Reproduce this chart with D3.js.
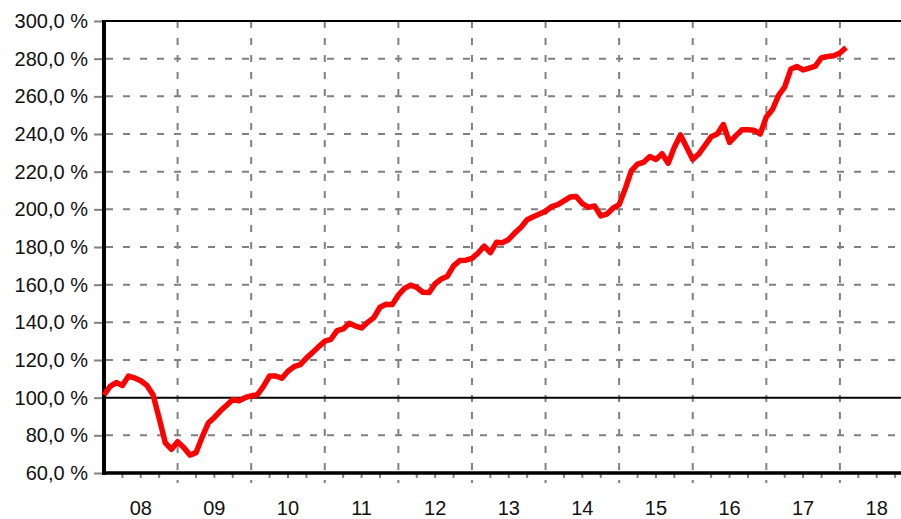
<!DOCTYPE html>
<html>
<head>
<meta charset="utf-8">
<script src="https://cdn.jsdelivr.net/npm/d3@7"></script>
<style>
  body { margin: 0; background: #fff; }
  svg { display: block; font-family: "Liberation Sans", Arial, sans-serif; }
</style>
</head>
<body>
<svg width="901" height="519"></svg>
<script>
// monthly index values, Jan of each year onwards
const v2008 = [101.4, 106, 108, 106.5, 111.5, 110.5, 109, 106.5, 101.5, 89, 76, 72.6];
const v2009 = [76.6, 73.5, 69.5, 70.8, 79, 86.5, 89.5, 93, 96, 99, 98.4, 100];
const v2010 = [101, 101.5, 106, 111.5, 111.5, 110.3, 114, 116.5, 117.5, 121, 124, 127];
const v2011 = [130, 131, 135.6, 136.5, 139.5, 138, 137, 140, 142.5, 148, 149.6, 149.4];
const v2012 = [154.5, 158, 159.8, 158.5, 156, 155.8, 160.5, 163, 164.5, 170, 172.8, 173];
const v2013 = [174, 176.8, 180.5, 177, 182.5, 182.3, 184, 187.5, 190.5, 194.5, 196.1, 197.5];
const v2014 = [199, 201.5, 202.5, 204.5, 206.5, 206.8, 203, 201.1, 201.8, 196.5, 197.5, 200.6];
const v2015 = [202.5, 211, 220.5, 224, 225, 228, 226.5, 229.5, 224.5, 233, 239.5, 233];
const v2016 = [226.5, 229.5, 234, 238.5, 240, 245, 235.5, 239, 242.2, 242.2, 242, 240];
const v2017 = [249, 253, 260.5, 265, 274.5, 275.8, 274, 275, 276, 280.5, 281.2, 281.5];
const v2018 = [283, 285.9];

const yearLabels = ['08', '09', '10', '11', '12', '13', '14', '15', '16', '17', '18'];
const yTicks = [60, 80, 100, 120, 140, 160, 180, 200, 220, 240, 260, 280, 300];

const series = [v2008, v2009, v2010, v2011, v2012, v2013, v2014, v2015, v2016, v2017, v2018];
const data = [];
series.forEach((vals, yi) => {
  vals.forEach((v, mi) => data.push({ t: 2008 + yi + mi / 12, v: v }));
});

const svg = d3.select('svg');
const mLeft = 104, mRight = 901, mTop = 21, mBottom = 473;

const x = d3.scaleLinear().domain([2008, 2018.83]).range([mLeft, mRight]);
const y = d3.scaleLinear().domain([60, 300]).range([mBottom, mTop]);

const grid = svg.append('g');

// horizontal grid (100 % is a solid line)
grid.selectAll('.hgrid')
  .data(yTicks.filter(d => d !== 60 && d !== 100 && d !== 300))
  .enter().append('line')
  .attr('x1', mLeft + 2).attr('x2', mRight)
  .attr('y1', d => y(d)).attr('y2', d => y(d))
  .attr('stroke', '#808080')
  .attr('stroke-width', 2)
  .attr('stroke-dasharray', '7,10');

// vertical grid at year boundaries, running a little below the axis
const yearStarts = d3.range(2009, 2019);
grid.selectAll('.vgrid')
  .data(yearStarts)
  .enter().append('line')
  .attr('x1', d => x(d)).attr('x2', d => x(d))
  .attr('y1', mTop).attr('y2', mBottom + 10)
  .attr('stroke', '#808080')
  .attr('stroke-width', 2)
  .attr('stroke-dasharray', '7,10');

// quarterly minor ticks
grid.selectAll('.qtick')
  .data(d3.range(2008, 2018.8, 0.25).filter(d => d % 1 !== 0))
  .enter().append('line')
  .attr('x1', d => x(d)).attr('x2', d => x(d))
  .attr('y1', mBottom).attr('y2', mBottom + 5)
  .attr('stroke', '#808080')
  .attr('stroke-width', 2);

// y axis labels + small tick marks
const fmt = d => d3.format('.1f')(d).replace('.', ',') + ' %';
const yAxis = svg.append('g')
  .attr('transform', `translate(${mLeft},0)`)
  .call(d3.axisLeft(y).tickValues(yTicks).tickFormat(fmt).tickSize(10).tickPadding(6));
yAxis.select('.domain').remove();
yAxis.selectAll('.tick line').attr('stroke', '#808080').attr('stroke-width', 2);
yAxis.selectAll('.tick text')
  .attr('fill', '#111')
  .style('font-size', '20px')
  .style('font-family', '"Liberation Sans", Arial, sans-serif');

// x year labels centred in each year
svg.append('g').selectAll('text')
  .data(yearLabels)
  .enter().append('text')
  .attr('x', (d, i) => x(2008 + i + 0.5))
  .attr('y', 515)
  .attr('text-anchor', 'middle')
  .attr('fill', '#111')
  .style('font-size', '20px')
  .text(d => d);

// reference line at 100 %
svg.append('line')
  .attr('x1', mLeft).attr('x2', mRight)
  .attr('y1', y(100)).attr('y2', y(100))
  .attr('stroke', '#000').attr('stroke-width', 2);

// frame
svg.append('line')
  .attr('x1', mLeft).attr('x2', mRight)
  .attr('y1', mTop).attr('y2', mTop)
  .attr('stroke', '#000').attr('stroke-width', 2);
svg.append('line')
  .attr('x1', mLeft).attr('x2', mRight)
  .attr('y1', mBottom).attr('y2', mBottom)
  .attr('stroke', '#000').attr('stroke-width', 3.5);
svg.append('line')
  .attr('x1', mLeft).attr('x2', mLeft)
  .attr('y1', mTop - 1).attr('y2', mBottom + 2)
  .attr('stroke', '#000').attr('stroke-width', 4);

// the series
const line = d3.line().x(d => x(d.t)).y(d => y(d.v));
svg.append('path')
  .datum(data)
  .attr('fill', 'none')
  .attr('stroke', '#ff0000')
  .attr('stroke-width', 5.5)
  .attr('stroke-linejoin', 'round')
  .attr('d', line);
</script>
</body>
</html>
